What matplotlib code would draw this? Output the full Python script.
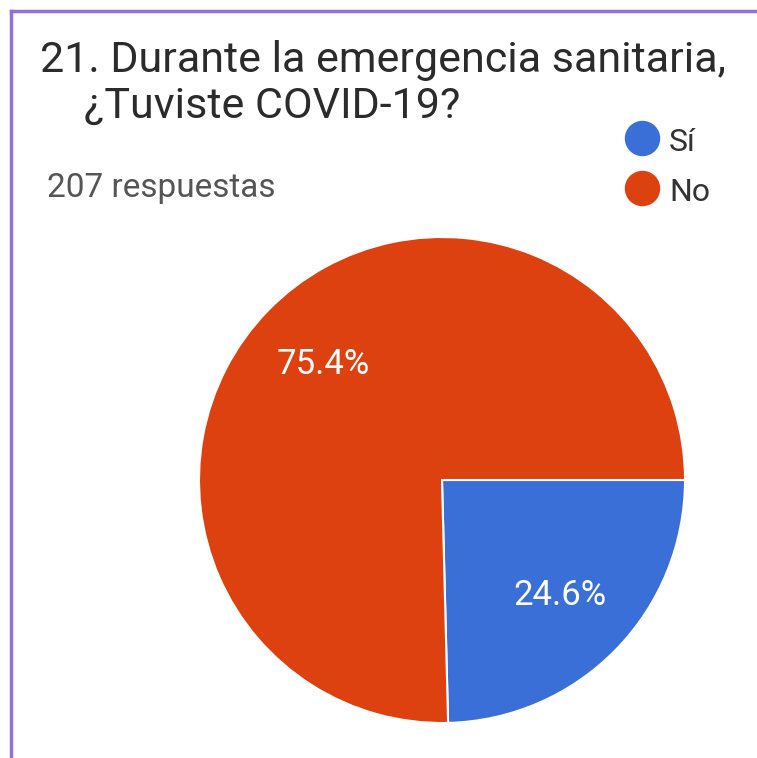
import matplotlib
matplotlib.use("Agg")
import matplotlib.pyplot as plt
from matplotlib.lines import Line2D

plt.rcParams["font.family"] = ["Roboto", "DejaVu Sans"]

labels = ["Sí", "No"]
shares = [24.6, 75.4]
colors = ["#3A6FD8", "#DD410F"]
title_lines = ["21. Durante la emergencia sanitaria,", "¿Tuviste COVID-19?"]
responses = "207 respuestas"

W, H = 757, 758
fig = plt.figure(figsize=(W / 100, H / 100), dpi=100)
fig.patch.set_facecolor("white")

# purple card border (left and top)
border = "#9370DB"
fig.add_artist(Line2D([11 / W, 11 / W], [0, 1 - 11 / H], color=border, lw=2.5,
                      transform=fig.transFigure))
fig.add_artist(Line2D([11 / W, 1], [1 - 11 / H, 1 - 11 / H], color=border, lw=2.5,
                      transform=fig.transFigure))

fig.text(40 / W, 1 - 72 / H, title_lines[0], fontsize=31, color="#2b2b2b",
         ha="left", va="baseline")
fig.text(84 / W, 1 - 118 / H, title_lines[1], fontsize=31, color="#2b2b2b",
         ha="left", va="baseline")
fig.text(47 / W, 1 - 197 / H, responses, fontsize=24, color="#555555",
         ha="left", va="baseline")

# legend
for i, (lab, col) in enumerate(zip(labels, colors)):
    yc = 1 - (138 + 50 * i) / H
    fig.add_artist(Line2D([642 / W], [yc], marker="o", markersize=24.5, color=col,
                          transform=fig.transFigure))
    fig.text(669 / W, 1 - (151 + 50 * i) / H, lab, fontsize=23, color="#333333",
             ha="left", va="baseline")

cx, cy, r = 442, 480, 243
ax = fig.add_axes([(cx - r) / W, (H - cy - r) / H, 2 * r / W, 2 * r / H])
ax.pie(shares, colors=colors, startangle=0, counterclock=False,
       autopct="%1.1f%%", pctdistance=0.68,
       wedgeprops={"edgecolor": "white", "linewidth": 1.5},
       textprops={"color": "white", "fontsize": 25})
ax.set_xlim(-1, 1)
ax.set_ylim(-1, 1)
ax.set_aspect("equal")
ax.axis("off")

fig.savefig("out.png", dpi=100, facecolor="white")
